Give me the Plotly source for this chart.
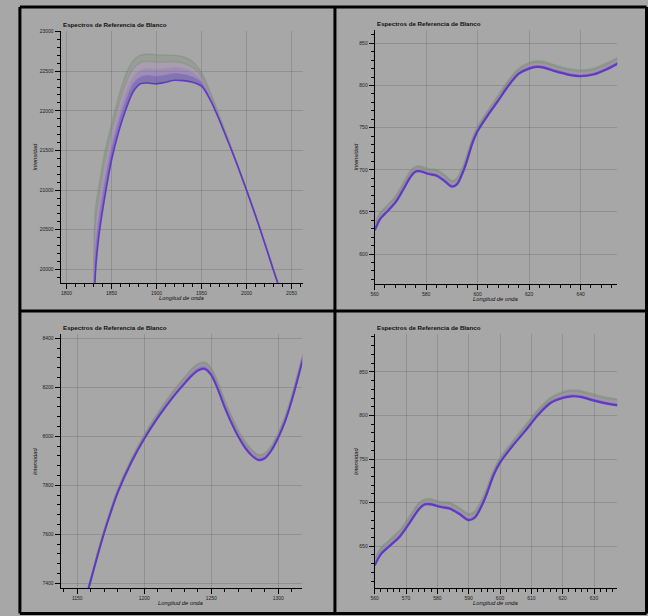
import plotly.graph_objects as go

W, H = 648, 616
BG = "#a7a7a7"

TITLE = "Espectros de Referencia de Blanco"
XTITLE = "Longitud de onda"
YTITLE = "Intensidad"

# ---- Panel A (top-left) ----
A_x = [1830, 1832, 1836, 1842, 1850, 1858, 1866, 1874, 1882, 1890, 1900, 1910, 1920,
       1930, 1940, 1950, 1960, 1970, 1980, 1990, 2000, 2010, 2020, 2030, 2040]
A_g = [18800, 20750, 21050, 21450, 21830, 22180, 22460, 22630, 22700, 22715, 22705, 22700, 22700,
       22680, 22620, 22480, 22230, 21930, 21630, 21320, 21010, 20685, 20345, 19995, 19655]
A_2 = [18800, 20550, 20900, 21320, 21720, 22070, 22350, 22530, 22610, 22625, 22615, 22615, 22620,
       22600, 22550, 22430, 22200, 21910, 21620, 21315, 21005, 20683, 20343, 19993, 19653]
A_3 = [18800, 20350, 20740, 21170, 21600, 21950, 22230, 22420, 22510, 22530, 22520, 22530, 22545,
       22530, 22490, 22390, 22170, 21900, 21610, 21312, 21003, 20682, 20342, 19992, 19652]
A_4 = [18800, 20150, 20590, 21020, 21490, 21840, 22120, 22330, 22420, 22440, 22430, 22445, 22465,
       22455, 22425, 22350, 22150, 21890, 21605, 21311, 21002, 20681, 20341, 19991, 19651]
A_p = [18800, 19950, 20430, 20880, 21380, 21740, 22020, 22240, 22340, 22350, 22340, 22360, 22385,
       22380, 22360, 22310, 22130, 21880, 21600, 21310, 21000, 20680, 20340, 19990, 19650]

# ---- Panel B (top-right and bottom-right) ----
B_x = [560, 562, 565, 568, 571, 574, 576, 578, 581, 584, 587, 590, 592, 595, 598, 600,
       604, 608, 612, 616, 620, 623, 626, 630, 635, 640, 645, 650, 655]
B_g = [635, 648, 658, 668, 683, 699, 704, 704, 701, 700, 694, 687, 690, 709, 737, 751,
       770, 788, 806, 820, 827, 829, 828, 824, 820, 818, 820, 826, 834]
B_2 = [633, 646, 656, 666, 681, 697, 702, 702, 699, 698, 692, 685, 688, 707, 735, 749,
       768, 786, 804, 818, 825, 827, 826, 822, 818, 816, 818, 824, 832]
B_3 = [631, 644, 654, 664, 679, 695, 700, 700, 697, 696, 690, 683, 686, 705, 734, 748,
       767, 784, 802, 816, 823, 825, 824, 820, 816, 814, 816, 822, 830]
B_4 = [630, 642, 652, 662, 677, 693, 699, 699, 696, 694, 688, 681, 684, 704, 733, 747,
       766, 783, 801, 815, 821, 823, 822, 818, 814, 812, 814, 820, 828]
B_p = [628, 641, 651, 661, 676, 692, 698, 698, 695, 693, 687, 680, 683, 703, 732, 746,
       765, 782, 800, 814, 820, 822, 821, 817, 813, 811, 813, 819, 827]

# ---- Panel C (bottom-left) ----
C_x = [1156, 1160, 1165, 1170, 1175, 1180, 1190, 1200, 1210, 1220, 1230, 1235, 1240, 1245, 1250,
       1255, 1260, 1265, 1270, 1275, 1280, 1285, 1290, 1295, 1300, 1305, 1310, 1315, 1320]
C_g = [7335, 7416, 7517, 7613, 7699, 7778, 7902, 8005, 8093, 8172, 8240, 8272, 8296, 8302, 8277,
       8218, 8146, 8082, 8025, 7980, 7946, 7925, 7930, 7962, 8012, 8078, 8162, 8262, 8368]
C_2 = [7334, 7414, 7515, 7611, 7697, 7776, 7899, 8001, 8089, 8166, 8234, 8265, 8289, 8295, 8270,
       8211, 8139, 8075, 8019, 7974, 7940, 7919, 7925, 7957, 8008, 8073, 8158, 8258, 8363]
C_3 = [7332, 7413, 7513, 7609, 7694, 7773, 7896, 7997, 8084, 8161, 8228, 8258, 8282, 8288, 8263,
       8204, 8132, 8068, 8012, 7968, 7934, 7914, 7920, 7952, 8003, 8069, 8153, 8253, 8359]
C_4 = [7331, 7411, 7512, 7607, 7692, 7770, 7893, 7994, 8080, 8155, 8221, 8252, 8275, 8282, 8257,
       8197, 8125, 8062, 8006, 7961, 7928, 7908, 7915, 7948, 7999, 8064, 8149, 8249, 8354]
C_p = [7330, 7410, 7510, 7605, 7690, 7768, 7890, 7990, 8075, 8150, 8215, 8245, 8268, 8275, 8250,
       8190, 8118, 8055, 8000, 7955, 7922, 7903, 7910, 7943, 7995, 8060, 8145, 8245, 8350]

SERIES_RGB = [(110, 140, 106), (128, 140, 124), (170, 140, 192), (140, 104, 205), (88, 58, 185)]
LINE_ALPHA = [0.35, 0.4, 0.5, 0.65, 0.95]
FILL_ALPHA = [0.0, 0.35, 0.32, 0.38, 0.45]

# panel pixel boxes: (left, right, top, bottom)
PANELS = [
    dict(box=(57, 301, 28, 281), xr=[1793.4, 2063], yr=[19833, 23008], xd=50, xm=10, yd=500, ym=100,
         x=A_x, ys=[A_g, A_2, A_3, A_4, A_p], lw=1.6),
    dict(box=(373, 617, 27, 282), xr=[560, 654.2], yr=[565, 866], xd=20, xm=4, yd=50, ym=10,
         x=B_x, ys=[B_g, B_2, B_3, B_4, B_p], lw=2.2),
    dict(box=(57, 300, 333, 588), xr=[1137.6, 1317.8], yr=[7380, 8416], xd=50, xm=10, yd=200, ym=40,
         x=C_x, ys=[C_g, C_2, C_3, C_4, C_p], lw=2.0),
    dict(box=(373, 617, 333, 588), xr=[560, 637.4], yr=[602, 893], xd=10, xm=2, yd=50, ym=10,
         x=B_x, ys=[B_g, B_2, B_3, B_4, B_p], lw=2.2),
]

fig = go.Figure()
annotations = []
font_family = "Liberation Sans, Arial, sans-serif"

for i, p in enumerate(PANELS, start=1):
    sfx = "" if i == 1 else str(i)
    l, r, t, b = p["box"]
    for k, ys in enumerate(p["ys"]):
        R, G, B = SERIES_RGB[k]
        fig.add_trace(go.Scatter(
            x=p["x"], y=ys, mode="lines",
            line=dict(color=f"rgba({R},{G},{B},{LINE_ALPHA[k]})", width=p["lw"], shape="spline", smoothing=0.8),
            fill="tonexty" if k > 0 else None,
            fillcolor=f"rgba({R},{G},{B},{FILL_ALPHA[k]})" if k > 0 else None,
            xaxis="x" + sfx, yaxis="y" + sfx, showlegend=False, hoverinfo="skip",
        ))
    common = dict(
        showline=True, linecolor="black", linewidth=1, ticks="outside", ticklen=5,
        tickcolor="black", tickwidth=1, tickfont=dict(size=5, color="#222", family=font_family),
        showgrid=True, gridcolor="rgba(95,95,95,0.3)", gridwidth=1, zeroline=False,
        tickformat="d",
    )
    fig.layout["xaxis" + sfx] = dict(
        common, domain=[l / W, r / W], range=p["xr"], dtick=p["xd"], tick0=0,
        anchor="y" + sfx,
        minor=dict(ticks="outside", ticklen=3, tickcolor="black", dtick=p["xm"], tick0=0, showgrid=False),
    )
    fig.layout["yaxis" + sfx] = dict(
        common, domain=[1 - b / H, 1 - t / H], range=p["yr"], dtick=p["yd"], tick0=0,
        anchor="x" + sfx,
        minor=dict(ticks="outside", ticklen=3, tickcolor="black", dtick=p["ym"], tick0=0, showgrid=False),
    )
    annotations.append(dict(
        text=f"<b>{TITLE}</b>", x=l / W, y=1 - (t - 6.5) / H, xref="paper", yref="paper",
        xanchor="left", yanchor="middle", showarrow=False,
        font=dict(size=6.2, color="#111", family=font_family)))
    annotations.append(dict(
        text=f"<i>{XTITLE}</i>", x=(l + r) / 2 / W, y=1 - (b + 15) / H, xref="paper", yref="paper",
        xanchor="center", yanchor="middle", showarrow=False,
        font=dict(size=5.8, color="#111", family=font_family)))
    ytx = l - (26 if i in (1, 3) else 19)
    annotations.append(dict(
        text=f"<i>{YTITLE}</i>", x=ytx / W, y=1 - (t + b) / 2 / H, xref="paper", yref="paper",
        xanchor="center", yanchor="middle", showarrow=False, textangle=-90,
        font=dict(size=5.8, color="#111", family=font_family)))

shapes = []
for (x0, y0, x1, y1) in [(16, 4, 646.5, 4), (16, 613.5, 646.5, 613.5), (16, 4, 16, 613.5),
                         (646.5, 4, 646.5, 613.5), (333, 4, 333, 613.5), (16, 309.5, 646.5, 309.5)]:
    shapes.append(dict(type="line", xref="paper", yref="paper",
                       x0=x0 / W, x1=x1 / W, y0=1 - y0 / H, y1=1 - y1 / H,
                       line=dict(color="black", width=3)))

fig.update_layout(
    width=W, height=H, autosize=False,
    margin=dict(l=0, r=0, t=0, b=0),
    paper_bgcolor=BG, plot_bgcolor=BG,
    annotations=annotations, shapes=shapes,
    font=dict(family=font_family),
)

fig.write_html(
    "out.html",
    config={"displayModeBar": False},
    post_script="document.body.style.margin='0';document.body.style.overflow='hidden';"
                "document.body.style.background='" + BG + "';",
)
